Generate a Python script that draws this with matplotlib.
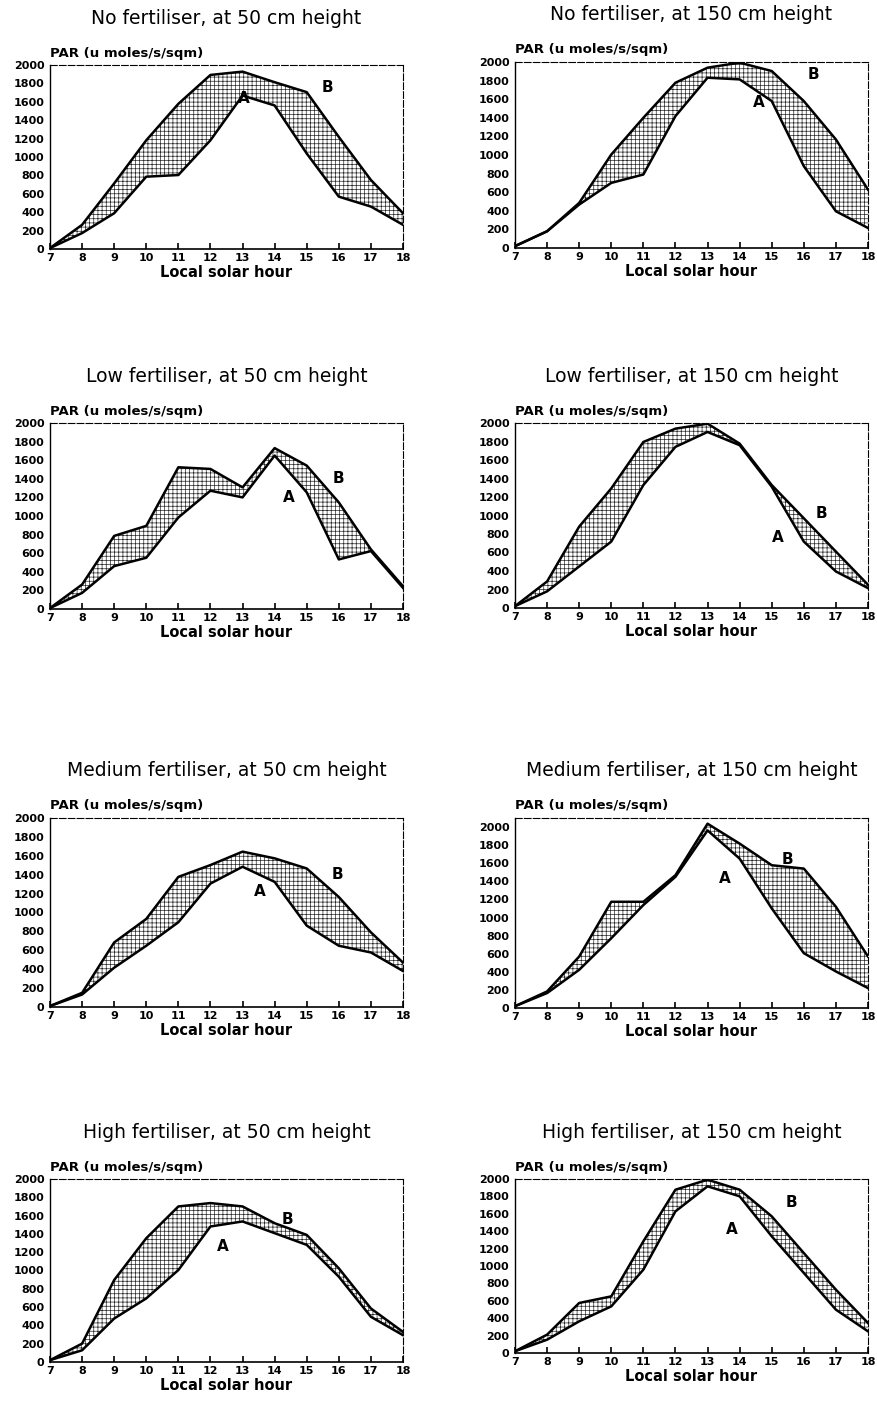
import numpy as np
import matplotlib
matplotlib.use("Agg")
import matplotlib.pyplot as plt

plt.rcParams['hatch.linewidth'] = 0.5

hours = list(range(7, 19))
hour_labels = [str(h) for h in hours]
yticks = list(range(0, 2001, 200))

titles = [
    "No fertiliser, at 50 cm height", "No fertiliser, at 150 cm height",
    "Low fertiliser, at 50 cm height", "Low fertiliser, at 150 cm height",
    "Medium fertiliser, at 50 cm height", "Medium fertiliser, at 150 cm height",
    "High fertiliser, at 50 cm height", "High fertiliser, at 150 cm height",
]

# PAR readings, curve B (upper) and curve A (lower)
no_50_B = [10, 263, 713, 1182, 1578, 1892, 1928, 1813, 1705, 1218, 750, 389]
no_50_A = [10, 173, 389, 786, 804, 1182, 1668, 1560, 1038, 569, 461, 263]
no_150_B = [20, 180, 485, 1005, 1400, 1777, 1939, 1993, 1903, 1580, 1167, 628]
no_150_A = [20, 180, 467, 700, 790, 1418, 1831, 1813, 1580, 880, 395, 215]
low_50_B = [10, 263, 786, 894, 1524, 1506, 1308, 1730, 1542, 1146, 641, 245]
low_50_A = [10, 173, 461, 551, 984, 1272, 1200, 1650, 1254, 533, 623, 227]
low_150_B = [20, 287, 880, 1293, 1795, 1939, 1993, 1777, 1329, 970, 610, 251]
low_150_A = [20, 180, 449, 718, 1329, 1742, 1903, 1760, 1311, 718, 395, 215]
med_50_B = [10, 150, 683, 932, 1377, 1502, 1644, 1573, 1466, 1164, 790, 470]
med_50_A = [10, 132, 416, 648, 897, 1306, 1484, 1324, 861, 648, 577, 381]
med_150_B = [20, 183, 569, 1174, 1174, 1468, 2037, 1817, 1578, 1541, 1119, 569]
med_150_A = [20, 165, 422, 771, 1138, 1450, 1963, 1651, 1101, 606, 404, 220]
high_50_B = [20, 201, 896, 1353, 1700, 1737, 1700, 1517, 1389, 1024, 585, 329]
high_50_A = [20, 128, 475, 695, 1005, 1481, 1536, 1408, 1280, 932, 494, 293]
high_150_B = [20, 211, 575, 651, 1284, 1877, 1992, 1877, 1571, 1149, 728, 345]
high_150_A = [20, 153, 364, 536, 958, 1628, 1916, 1801, 1341, 920, 498, 249]

series = [
    (no_50_B, no_50_A), (no_150_B, no_150_A),
    (low_50_B, low_50_A), (low_150_B, low_150_A),
    (med_50_B, med_50_A), (med_150_B, med_150_A),
    (high_50_B, high_50_A), (high_150_B, high_150_A),
]

# label positions (x, y) for A and B
label_A = [(13.05, 1640), (14.6, 1560), (14.45, 1200), (15.2, 760),
           (13.55, 1220), (13.55, 1430), (12.4, 1260), (13.75, 1420)]
label_B = [(15.65, 1760), (16.3, 1870), (16.0, 1400), (16.55, 1025),
           (15.95, 1400), (15.5, 1640), (14.4, 1555), (15.6, 1725)]
ytops = [2000, 2000, 2000, 2000, 2000, 2100, 2000, 2000]

W, H = 877, 1406
# axes boxes in pixels: left, top, right, bottom
boxes = [
    (50, 65, 403, 249), (515, 62, 868, 248),
    (50, 423, 403, 609), (515, 423, 868, 608),
    (50, 818, 403, 1007), (515, 818, 868, 1008),
    (50, 1179, 403, 1362), (515, 1179, 868, 1353),
]

fig = plt.figure(figsize=(W / 100, H / 100), dpi=100)

for i, (l, t, r, b) in enumerate(boxes):
    ax = fig.add_axes([l / W, 1 - b / H, (r - l) / W, (b - t) / H])
    upper, lower = series[i]
    ax.fill_between(hours, lower, upper, facecolor='white', edgecolor='0.15',
                    hatch='++++', linewidth=0)
    ax.plot(hours, upper, color='black', lw=1.8)
    ax.plot(hours, lower, color='black', lw=1.8)
    ax.text(*label_A[i], "A", fontsize=11, fontweight='bold', ha='center', va='center')
    ax.text(*label_B[i], "B", fontsize=11, fontweight='bold', ha='center', va='center')

    ax.set_xlim(7, 18)
    ax.set_ylim(0, ytops[i])
    ax.set_xticks(hours)
    ax.set_xticklabels(hour_labels, fontsize=8, fontweight='heavy')
    ax.set_yticks(yticks)
    ax.set_yticklabels([str(v) for v in yticks], fontsize=8, fontweight='heavy')
    ax.tick_params(axis='x', direction='in', length=4, width=1.2, pad=3)
    ax.tick_params(axis='y', length=0, pad=4)
    for s in ['top', 'right']:
        ax.spines[s].set_linestyle((0, (6, 2)))
        ax.spines[s].set_linewidth(0.8)
    ax.spines['left'].set_linewidth(1.0)
    ax.spines['bottom'].set_linewidth(1.2)
    ax.set_xlabel("Local solar hour", fontsize=10.5, fontweight='bold', labelpad=1)

    h_px = b - t
    ax.text(0.0, 1 + 12 / h_px, "PAR (u moles/s/sqm)", transform=ax.transAxes,
            fontsize=9.5, fontweight='bold', ha='left', va='center')
    ax.text(0.5, 1 + 47 / h_px, titles[i], transform=ax.transAxes,
            fontsize=13.5, ha='center', va='center')

fig.savefig("out.png", dpi=100)
